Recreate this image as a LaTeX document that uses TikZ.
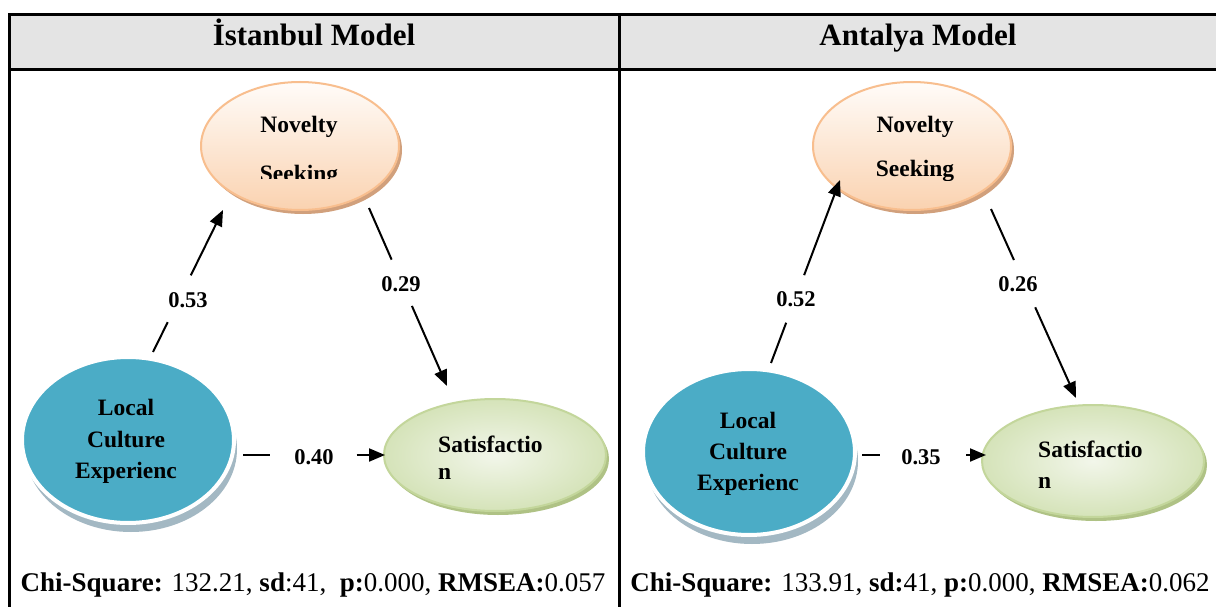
\documentclass[tikz,border=0pt]{standalone}
\usepackage{fontspec}
\setmainfont{Liberation Serif}
\usetikzlibrary{shapes.geometric,arrows.meta,shadows,calc}
\definecolor{hdr}{HTML}{E4E4E4}
\definecolor{peachtop}{HTML}{FFFCF9}
\definecolor{peachbot}{HTML}{FAD2B0}
\definecolor{peachline}{HTML}{F8BE8E}
\definecolor{peachshadow}{HTML}{D1A07C}
\definecolor{lcblue}{HTML}{4BACC6}
\definecolor{lcshadow}{HTML}{A3B8C3}
\definecolor{greenin}{HTML}{F2F6EA}
\definecolor{greenout}{HTML}{D5E3B9}
\definecolor{greenline}{HTML}{C3D69B}
\definecolor{greenshadow}{HTML}{AFC285}
\tikzset{
  gridline/.style={line width=3pt, black},
  hdrtext/.style={font=\fontsize{31}{36}\selectfont\bfseries, inner sep=0, anchor=base},
  chitext/.style={font=\fontsize{27}{32}\selectfont, inner sep=0, anchor=base},
  nodetext/.style={font=\fontsize{23.5}{30}\selectfont\bfseries, inner sep=0, anchor=base},
  novelty/.style={ellipse, minimum width=198pt, minimum height=128pt, inner sep=0,
     draw=peachline, line width=2pt, top color=peachtop, bottom color=peachbot,
     drop shadow={shadow xshift=3pt, shadow yshift=-4pt, fill=peachshadow, opacity=1}},
  localc/.style={ellipse, minimum width=212pt, minimum height=166pt, inner sep=0,
     draw=white, line width=4pt, fill=lcblue,
     drop shadow={shadow xshift=3pt, shadow yshift=-9pt, fill=lcshadow, opacity=1}},
  satisf/.style={ellipse, minimum width=222pt, minimum height=112pt, inner sep=0,
     draw=greenline, line width=2pt, inner color=greenin, outer color=greenout,
     drop shadow={shadow xshift=3pt, shadow yshift=-4pt, fill=greenshadow, opacity=1}},
  seg/.style={line width=2pt},
  path/.style={line width=2pt, -{Triangle[length=16pt,width=13pt]}},
  coef/.style={font=\fontsize{22.5}{26}\selectfont\bfseries, inner sep=0},
}
\begin{document}
\begin{tikzpicture}[x=1pt,y=-1pt]
\useasboundingbox (0,0) rectangle (1216,607);
\fill[white] (0,0) rectangle (1216,607);
% table
\fill[hdr] (9,15) rectangle (1216,70);
\draw[gridline] (1216,15) -- (9,15) -- (9,607);
\draw[gridline] (9,70) -- (1216,70);
\draw[gridline] (619,15) -- (619,607);
\node[hdrtext] (h1) at (314,46) {İstanbul Model};
\node[hdrtext] (h2) at (918,46) {Antalya Model};

% ---------- Istanbul ----------
\node[novelty] (ns1) at (300,146) {};
\node[localc] (lc1) at (128,440) {};
\node[satisf] (sa1) at (495,455) {};
\node[nodetext] (ns1a) at (299,133) {Novelty};
\begin{scope}
\clip (200,150) rectangle (400,179);
\node[nodetext] (ns1b) at (299,182) {Seeking};
\end{scope}
\node[nodetext] (lc1a) at (126,415) {Local};
\node[nodetext] (lc1b) at (126,447) {Culture};
\node[nodetext] (lc1c) at (126,478) {Experienc};
\node[nodetext, anchor=base west] (sa1a) at (438,452) {Satisfactio};
\node[nodetext, anchor=base west] (sa1b) at (438,479) {n};

\coordinate (a1s) at (153,352);
\coordinate (a1e) at (223,210);
\coordinate (b1s) at (369,208);
\coordinate (b1e) at (447,386);
\coordinate (c1s) at (243,455);
\coordinate (c1e) at (385,455);
\draw[seg] (a1s) -- ($(a1s)!0.21!(a1e)$);
\draw[path] ($(a1s)!0.54!(a1e)$) -- (a1e);
\node[coef] (l1) at (188,300) {0.53};
\draw[seg] (b1s) -- ($(b1s)!0.29!(b1e)$);
\draw[path] ($(b1s)!0.55!(b1e)$) -- (b1e);
\node[coef] (l2) at (401,284) {0.29};
\draw[seg] (c1s) -- ($(c1s)!0.19!(c1e)$);
\draw[path] ($(c1s)!0.80!(c1e)$) -- (c1e);
\node[coef] (l3) at (314,457) {0.40};

\node[chitext] (chi1) at (313,591) {\textbf{Chi-Square:} 132.21, \textbf{sd}:41,\ \ \textbf{p:}0.000, \textbf{RMSEA:}0.057};

% ---------- Antalya ----------
\node[novelty] (ns2) at (912,146) {};
\node[localc] (lc2) at (749,452) {};
\node[satisf] (sa2) at (1093,461) {};
\node[nodetext] (ns2a) at (915,133) {Novelty};
\begin{scope}
\clip (810,150) rectangle (1010,181);
\node[nodetext] (ns2b) at (915,177) {Seeking};
\end{scope}
\node[nodetext] (lc2a) at (748,428) {Local};
\node[nodetext] (lc2b) at (748,459) {Culture};
\node[nodetext] (lc2c) at (748,490) {Experienc};
\node[nodetext, anchor=base west] (sa2a) at (1038,457) {Satisfactio};
\node[nodetext, anchor=base west] (sa2b) at (1038,488) {n};

\coordinate (a2s) at (771,363);
\coordinate (a2e) at (840,180);
\coordinate (b2s) at (991,209);
\coordinate (b2e) at (1076,398);
\coordinate (c2s) at (862,455);
\coordinate (c2e) at (986,455);
\draw[seg] (a2s) -- ($(a2s)!0.22!(a2e)$);
\draw[path] ($(a2s)!0.48!(a2e)$) -- (a2e);
\node[coef] (l4) at (796,299) {0.52};
\draw[seg] (b2s) -- ($(b2s)!0.27!(b2e)$);
\draw[path] ($(b2s)!0.52!(b2e)$) -- (b2e);
\node[coef] (l5) at (1018,284) {0.26};
\draw[seg] (c2s) -- ($(c2s)!0.145!(c2e)$);
\draw[path] ($(c2s)!0.84!(c2e)$) -- (c2e);
\node[coef] (l6) at (921,457) {0.35};

\node[chitext] (chi2) at (920,591) {\textbf{Chi-Square:} 133.91, \textbf{sd:}41, \textbf{p:}0.000, \textbf{RMSEA:}0.062};
\end{tikzpicture}
\end{document}
